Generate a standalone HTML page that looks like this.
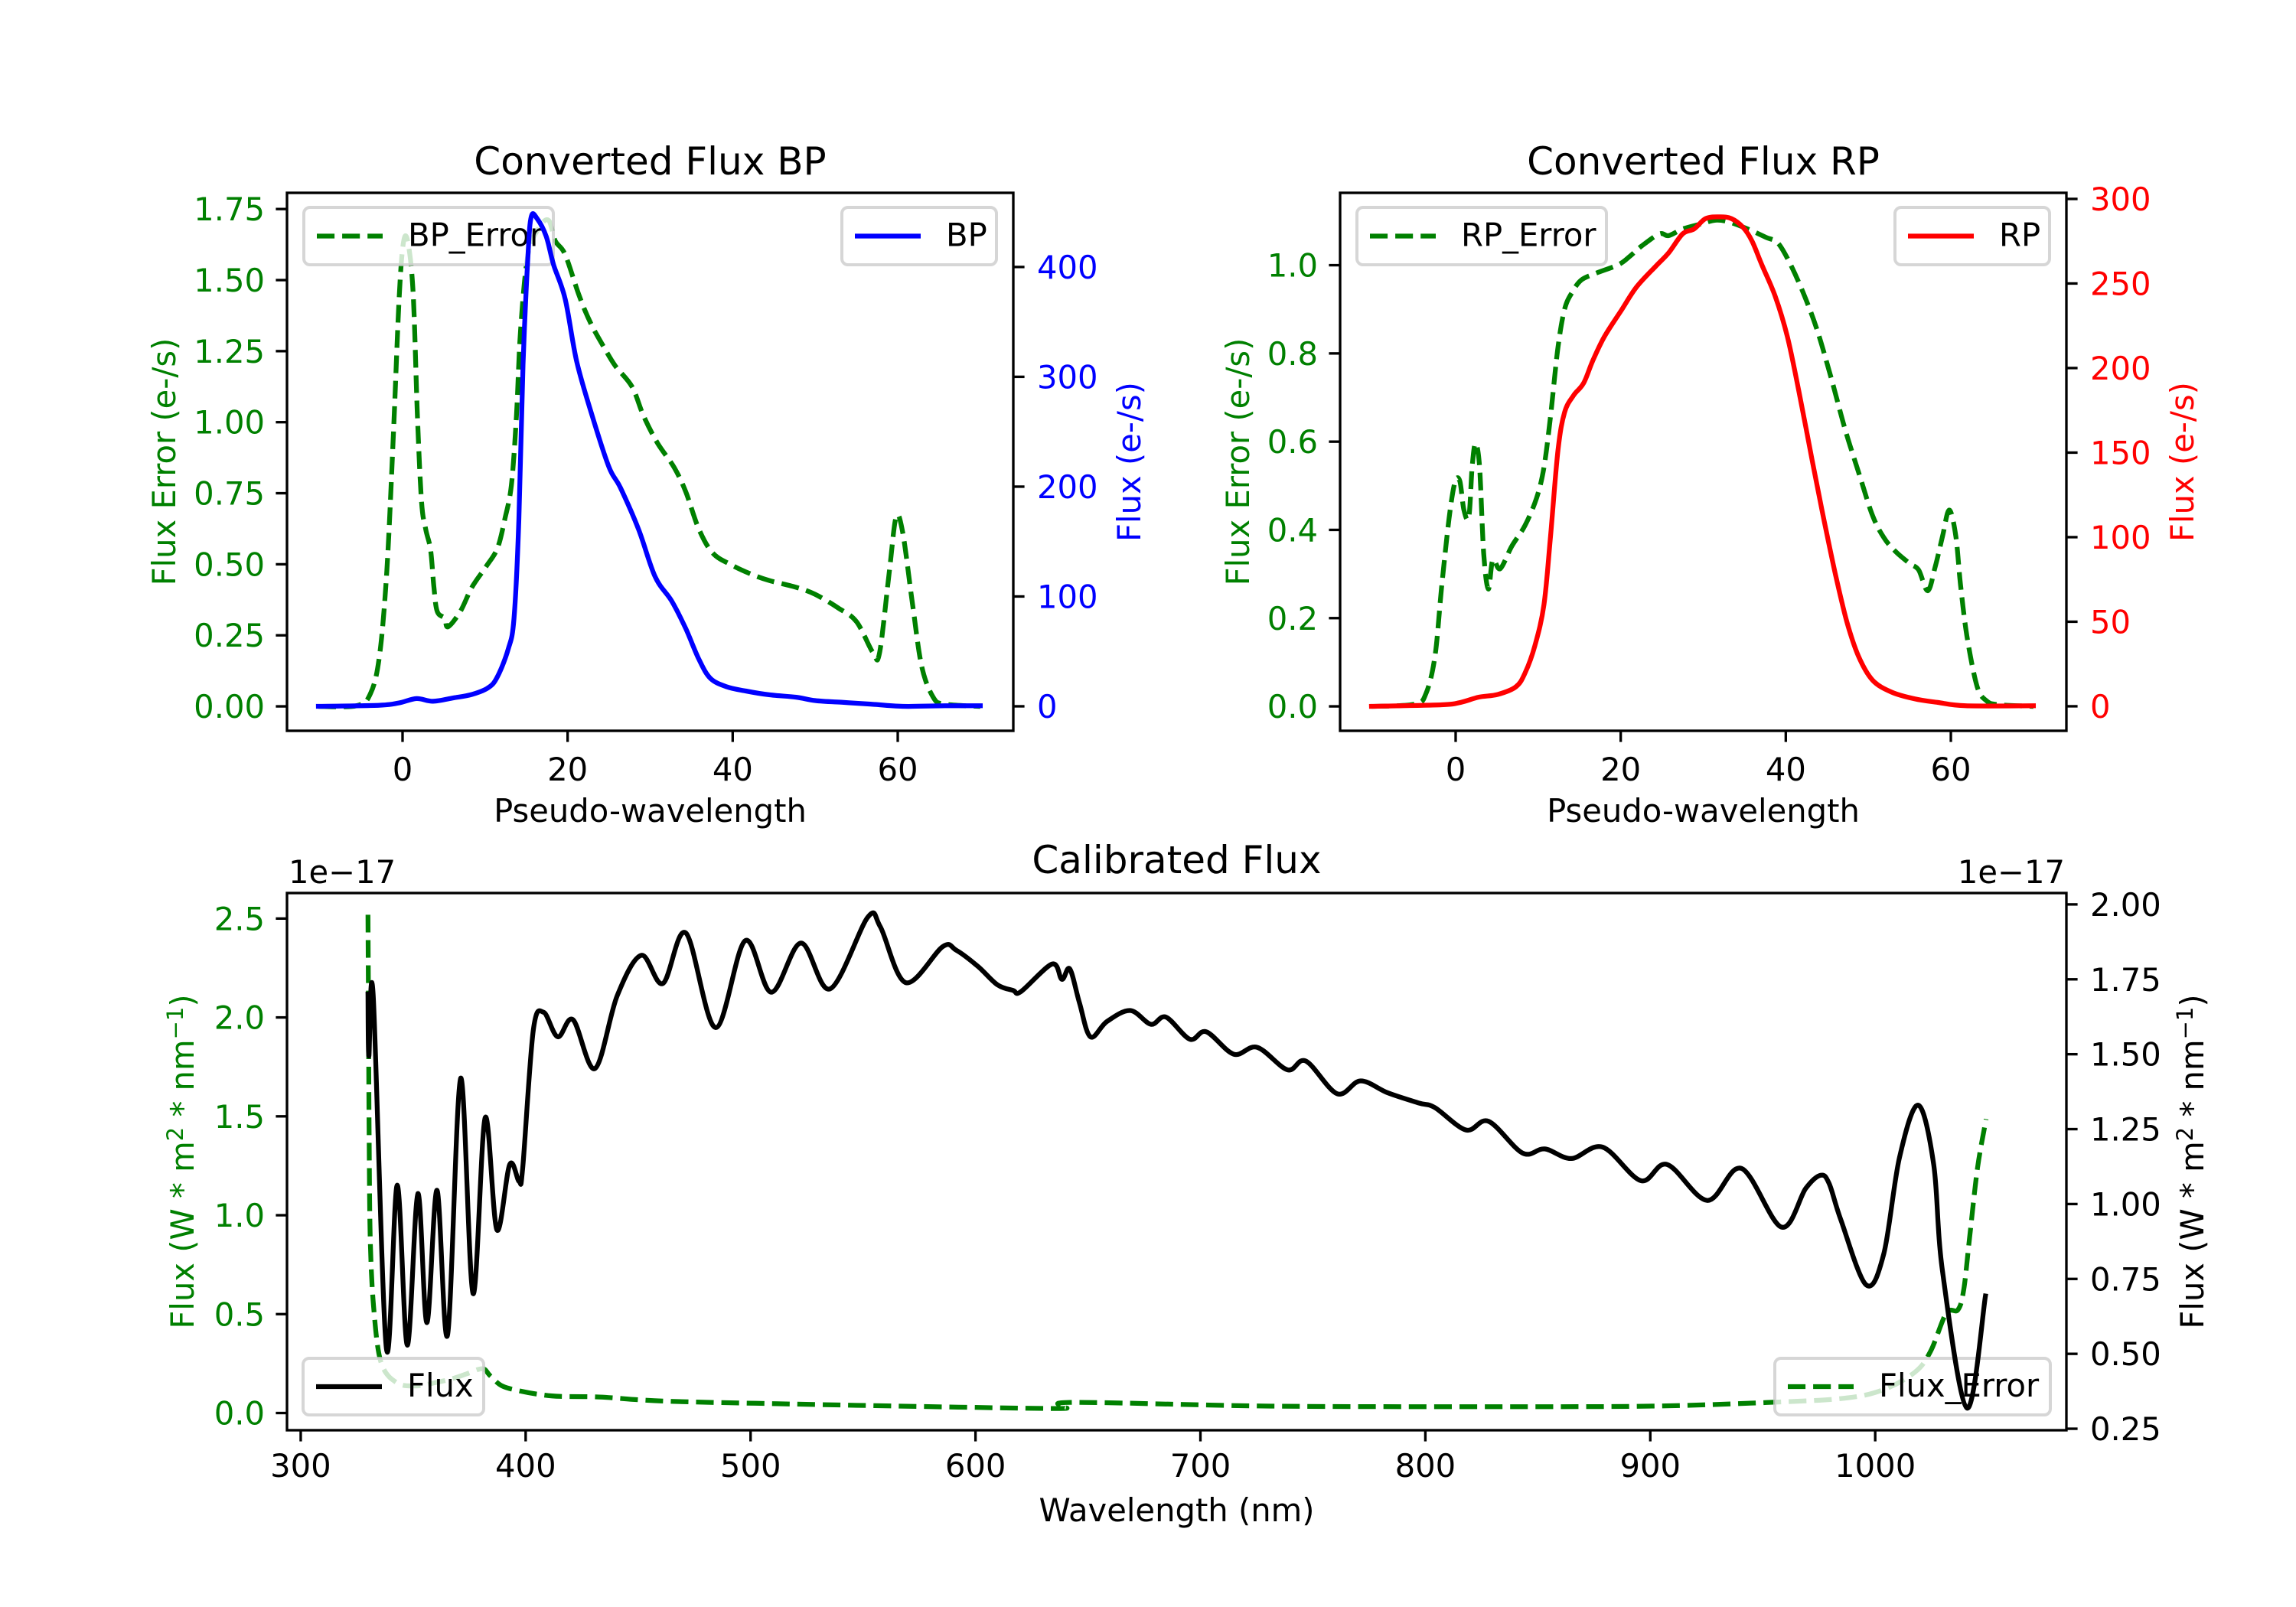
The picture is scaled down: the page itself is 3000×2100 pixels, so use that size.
<!DOCTYPE html>
<html><head><meta charset="utf-8"><style>
html,body{margin:0;padding:0;background:#fff}
svg{display:block}
text{font-family:"DejaVu Sans","Liberation Sans",sans-serif}
</style></head><body>
<svg id="fig" xmlns="http://www.w3.org/2000/svg" width="3000" height="2100" viewBox="0 0 3000 2100"></svg>
<script>
// ---------- data: BP panel ----------
const bpX = [-10.2,-2.8,-0.5,1.7,3.7,6.2,8.4,10.4,11.5,12.8,13.5,14.1,14.6,15.2,15.6,16.3,17.4,18.3,19.7,21.1,23.0,25.0,26.4,28.6,30.6,32.6,34.3,35.9,37.3,39.3,41.6,44.4,47.7,50.0,53.3,56.7,60.6,65.7,70];
const bpFlux = [0,1,3,7,4.6,7.7,10.8,17,27,52,80,171,311,411,446,444,428,402,371,314,264,218,199,161,118,96,71,43,25.5,17.7,13.9,10.5,8.3,5.2,3.6,2,0,0.5,0.5];
const bpErrX = [-10.2,-5.6,-3.9,-2.8,-1.9,-1.1,-0.4,0.14,0.7,1.3,1.8,2.3,2.8,3.4,3.8,4.2,5.1,5.5,7.0,8.4,10.1,11.5,12.4,13.2,13.8,14.3,15.2,16.6,17.7,18.5,19.7,21.4,22.8,24.4,25.8,27.8,29.2,30.9,32.9,34.3,35.9,37.6,39.9,42.1,44.4,47.7,50.0,52.8,55.0,57.0,57.8,59.0,59.8,60.6,61.8,62.9,64.3,65.7,70];
const bpErr = [0,0.002,0.044,0.177,0.479,0.962,1.445,1.638,1.626,1.445,1.022,0.72,0.624,0.551,0.419,0.334,0.31,0.28,0.334,0.419,0.491,0.557,0.66,0.781,1.022,1.324,1.59,1.686,1.71,1.638,1.59,1.445,1.348,1.264,1.197,1.125,1.022,0.926,0.841,0.756,0.624,0.539,0.497,0.467,0.443,0.419,0.394,0.346,0.298,0.189,0.189,0.479,0.666,0.612,0.358,0.141,0.032,0.008,0];
const bpXTicks = [0,20,40,60];
const bpLTicks = ["0.00","0.25","0.50","0.75","1.00","1.25","1.50","1.75"];
const bpRTicks = ["0","100","200","300","400"];
// ---------- data: RP panel ----------
const rpX = [-10.2,-1.7,0.6,2.8,5.1,7.3,8.4,9.6,10.7,11.5,12.4,13.2,14.3,15.5,16.6,18.0,20.0,21.9,24.2,25.8,27.5,28.9,30.3,32.0,33.4,34.8,35.9,37.1,38.7,40.2,41.6,43.2,44.6,46.0,47.4,48.8,50.5,52.8,55.6,58.4,61.8,70];
const rpFlux = [0,0.9,2.3,5.4,7,11.5,19.6,35.8,60.2,100.7,151.4,173.8,183.9,191,204.2,218.4,233.6,247.8,260,268.1,279.3,282.3,288.4,289.4,288.4,283.3,275.2,261,242.7,218.4,185.9,145.4,110.9,78.4,50,29.7,15.5,8.4,4.4,2.3,0.3,0.3];
const rpErrX = [-10.2,-5.0,-3.6,-2.5,-1.7,-0.8,-0.1,0.5,1.0,1.6,2.0,2.4,2.9,3.4,3.96,4.5,5.4,6.8,8.4,9.8,10.7,11.5,12.4,13.2,14.1,15.2,16.9,19.7,21.1,22.5,24.7,25.8,27.5,29.8,31.5,33.1,35.4,37.6,39.0,40.4,42.1,43.8,45.5,47.2,48.9,50.5,51.9,53.3,55.0,56.1,57.2,58.1,59.0,59.8,60.6,61.2,62.0,63.2,64.3,65.7,70];
const rpErr = [0,0.005,0.029,0.114,0.27,0.425,0.507,0.511,0.445,0.429,0.542,0.596,0.542,0.347,0.266,0.332,0.312,0.363,0.41,0.472,0.542,0.658,0.814,0.9,0.938,0.966,0.981,1.001,1.02,1.043,1.071,1.067,1.082,1.094,1.102,1.098,1.082,1.063,1.051,1.008,0.938,0.853,0.744,0.627,0.526,0.433,0.382,0.351,0.324,0.309,0.262,0.316,0.386,0.445,0.386,0.27,0.153,0.044,0.013,0.004,0];
const rpXTicks = [0,20,40,60];
const rpLTicks = ["0.0","0.2","0.4","0.6","0.8","1.0"];
const rpRTicks = ["0","50","100","150","200","250","300"];
// ---------- data: calibrated flux ----------
const calX = [329.9,330.3,332.2,338.1,342.9,347.4,352.1,356.1,360.6,365.3,371.1,376.6,382.0,387.2,392.9,397.1,398.7,403.4,408.0,414.3,421.1,430.8,440.7,451.4,461.0,471.2,484.4,497.6,509.2,522.4,535.3,552.1,557.7,569.0,585.4,591.5,601.1,609.7,616.7,620.2,634.1,638.4,641.9,646.2,651.1,658.4,668.8,678.0,684.7,695.3,702.6,714.8,725.2,738.7,746.9,760.8,771.2,783.3,797.2,804.2,818.1,828.1,843.2,853.1,864.9,878.8,895.8,907.5,925.4,940.5,958.3,969.1,975.7,979.5,984.7,996.0,1003.8,1010.8,1019.1,1026.0,1029.9,1040.8,1049.0];
const calFlux = [1.701,1.494,1.698,0.517,1.063,0.529,1.035,0.604,1.046,0.563,1.42,0.701,1.288,0.914,1.132,1.075,1.121,1.58,1.64,1.558,1.615,1.452,1.695,1.83,1.736,1.905,1.589,1.879,1.707,1.871,1.718,1.957,1.925,1.739,1.859,1.847,1.793,1.732,1.713,1.709,1.801,1.75,1.785,1.672,1.558,1.609,1.646,1.6,1.624,1.55,1.575,1.5,1.523,1.448,1.477,1.368,1.411,1.371,1.337,1.322,1.247,1.276,1.17,1.184,1.152,1.19,1.078,1.132,1.012,1.119,0.923,1.052,1.096,1.069,0.948,0.73,0.834,1.155,1.33,1.132,0.776,0.319,0.693];
const calErrX = [329.9,330.1,330.4,330.9,332.4,335.6,342.6,351.3,360.0,366.9,373.8,380.8,384.2,389.5,398.1,406.8,415.5,432.9,450.2,467.6,502.3,566.2,634.1,639.3,644.5,731.3,829.9,899.7,951.7,986.5,1003.8,1017.7,1024.6,1031.6,1036.8,1039.4,1042.0,1045.5,1049.3];
const calErr = [2.519,2.116,1.416,0.89,0.54,0.259,0.154,0.137,0.154,0.172,0.198,0.224,0.189,0.137,0.11,0.093,0.084,0.081,0.067,0.058,0.049,0.035,0.023,0.032,0.054,0.035,0.032,0.035,0.053,0.075,0.119,0.207,0.312,0.505,0.522,0.627,0.89,1.24,1.486];
const calXTicks = [300,400,500,600,700,800,900,1000];
const calLTicks = ["0.0","0.5","1.0","1.5","2.0","2.5"];
const calRTicks = ["0.25","0.50","0.75","1.00","1.25","1.50","1.75","2.00"];

const NS = 'http://www.w3.org/2000/svg';
const svg = document.getElementById('fig');
const GREEN = '#008000';
function mk(tag, attrs, parent) {
  const e = document.createElementNS(NS, tag);
  for (const k in attrs) e.setAttribute(k, attrs[k]);
  (parent || svg).appendChild(e);
  return e;
}
function lin(d0, d1, p0, p1) { return v => p0 + (v - d0) * (p1 - p0) / (d1 - d0); }

function addText(str, attrs, name) {
  const t = mk('text', attrs);
  t.textContent = str;
  
  
  return t;
}

// smooth path through screen points (Catmull-Rom -> cubic Bezier)
function smoothPath(P) {
  let d = 'M' + P[0][0].toFixed(1) + ',' + P[0][1].toFixed(1);
  for (let i = 0; i < P.length - 1; i++) {
    const p0 = P[Math.max(0, i - 1)], p1 = P[i], p2 = P[i + 1], p3 = P[Math.min(P.length - 1, i + 2)];
    const k = 1 / 6;
    const c1x = p1[0] + (p2[0] - p0[0]) * k, c1y = p1[1] + (p2[1] - p0[1]) * k;
    const c2x = p2[0] - (p3[0] - p1[0]) * k, c2y = p2[1] - (p3[1] - p1[1]) * k;
    d += ' C' + c1x.toFixed(1) + ',' + c1y.toFixed(1) + ' ' + c2x.toFixed(1) + ',' + c2y.toFixed(1) + ' ' + p2[0].toFixed(1) + ',' + p2[1].toFixed(1);
  }
  return d;
}

function drawLine(xs, ys, sx, sy, color, dashed, clipId, name) {
  const P = xs.map((x, i) => [sx(x), sy(ys[i])]);
  const a = {d: smoothPath(P), fill: 'none', stroke: color, 'stroke-width': 6.25, 'stroke-linejoin': 'round', 'clip-path': 'url(#' + clipId + ')'};
  if (dashed) { a['stroke-dasharray'] = '23.1 10'; } else { a['stroke-linecap'] = 'square'; }
  const p = mk('path', a);
  
  
  return p;
}

function legend(x0, y0, x1, y1, color, dashed, label, name) {
  const g = mk('g', {});
  
  
  mk('rect', {x: x0, y: y0, width: x1 - x0, height: y1 - y0, rx: 8, fill: '#fff', 'fill-opacity': 0.8, stroke: '#cccccc', 'stroke-opacity': 0.8, 'stroke-width': 4}, g);
  const cy = (y0 + y1) / 2;
  const hx = x0 + 17;
  const h = mk('line', {x1: hx, y1: cy, x2: hx + 86, y2: cy, stroke: color, 'stroke-width': 6.25, 'stroke-dasharray': dashed ? '23.1 10' : 'none'}, g);
  
  
  const t = mk('text', {x: hx + 119, y: cy + 13, 'font-size': 41.7, fill: '#000'}, g);
  t.textContent = label;
  
  
}

function axes(cfg) {
  const {L, R, T, B} = cfg;
  const sx = lin(cfg.xlim[0], cfg.xlim[1], L, R);
  const syL = lin(cfg.ylimL[0], cfg.ylimL[1], B, T);
  const syR = lin(cfg.ylimR[0], cfg.ylimR[1], B, T);
  const defs = mk('defs', {});
  const cp = mk('clipPath', {id: cfg.id + '-clip'}, defs);
  mk('rect', {x: L, y: T, width: R - L, height: B - T}, cp);
  drawLine(cfg.exs, cfg.eys, sx, syL, GREEN, true, cfg.id + '-clip', cfg.id + '-error-line');
  legend(cfg.legE[0], cfg.legE[1], cfg.legE[2], cfg.legE[3], GREEN, true, cfg.legEName, cfg.id + '-error-legend');
  drawLine(cfg.fxs, cfg.fys, sx, syR, cfg.fcolor, false, cfg.id + '-clip', cfg.id + '-flux-line');
  legend(cfg.legF[0], cfg.legF[1], cfg.legF[2], cfg.legF[3], cfg.fcolor, false, cfg.legFName, cfg.id + '-flux-legend');
  const fr = mk('rect', {x: L, y: T, width: R - L, height: B - T, fill: 'none', stroke: '#000', 'stroke-width': 3.33});
  
  
  cfg.xticks.forEach(v => {
    const x = sx(v);
    mk('line', {x1: x, y1: B, x2: x, y2: B + 14.6, stroke: '#000', 'stroke-width': 3.33});
    addText(String(v), {x: x, y: cfg.xtickBase, 'font-size': 41.7, 'text-anchor': 'middle', fill: '#000'}, cfg.id + '-x-tick-label');
  });
  cfg.lticks.forEach(s => {
    const y = syL(parseFloat(s));
    mk('line', {x1: L - 14.6, y1: y, x2: L, y2: y, stroke: '#000', 'stroke-width': 3.33});
    addText(s, {x: L - 29, y: y + 15, 'font-size': 41.7, 'text-anchor': 'end', fill: GREEN}, cfg.id + '-left-tick-label');
  });
  cfg.rticks.forEach(s => {
    const y = syR(parseFloat(s));
    mk('line', {x1: R, y1: y, x2: R + 14.6, y2: y, stroke: '#000', 'stroke-width': 3.33});
    addText(s, {x: R + 31, y: y + 15, 'font-size': 41.7, 'text-anchor': 'start', fill: cfg.rtickColor}, cfg.id + '-right-tick-label');
  });
  const cx = (L + R) / 2, cy = (T + B) / 2;
  addText(cfg.title, {x: cx, y: cfg.titleBase, 'font-size': 50, 'text-anchor': 'middle', fill: '#000'}, cfg.id + '-title');
  addText(cfg.xlabel, {x: cx, y: cfg.xlabelBase, 'font-size': 41.7, 'text-anchor': 'middle', fill: '#000'}, cfg.id + '-x-axis-title');
  const yl = addText('', {x: cfg.ylabelLX + 15, y: cy, 'font-size': 41.7, 'text-anchor': 'middle', fill: GREEN, transform: 'rotate(-90 ' + (cfg.ylabelLX + 15) + ' ' + cy + ')'}, cfg.id + '-left-axis-title');
  yl.innerHTML = cfg.ylabelL;
  const yr = addText('', {x: cfg.ylabelRX + 15, y: cy, 'font-size': 41.7, 'text-anchor': 'middle', fill: cfg.ylabelRColor, transform: 'rotate(-90 ' + (cfg.ylabelRX + 15) + ' ' + cy + ')'}, cfg.id + '-right-axis-title');
  yr.innerHTML = cfg.ylabelR;
}

axes({id: 'bp', L: 375, R: 1324, T: 252, B: 955, xlim: [-14, 74], ylimL: [-0.086, 1.807], ylimR: [-22.3, 467.5],
  exs: bpErrX, eys: bpErr, fxs: bpX, fys: bpFlux, fcolor: '#0000ff',
  legE: [397, 271, 723, 346], legEName: 'BP_Error', legF: [1100, 271, 1302, 346], legFName: 'BP',
  xticks: bpXTicks, lticks: bpLTicks, rticks: bpRTicks, rtickColor: '#0000ff', xtickBase: 1020,
  title: 'Converted Flux BP', titleBase: 228, xlabel: 'Pseudo-wavelength', xlabelBase: 1074,
  ylabelLX: 214, ylabelL: 'Flux Error (e-/s)', ylabelRX: 1475, ylabelR: 'Flux (e-/s)', ylabelRColor: '#0000ff'});

axes({id: 'rp', L: 1751, R: 2700, T: 252, B: 955, xlim: [-14, 74], ylimL: [-0.0554, 1.164], ylimR: [-14.5, 303.6],
  exs: rpErrX, eys: rpErr, fxs: rpX, fys: rpFlux, fcolor: '#ff0000',
  legE: [1773, 271, 2099, 346], legEName: 'RP_Error', legF: [2476, 271, 2678, 346], legFName: 'RP',
  xticks: rpXTicks, lticks: rpLTicks, rticks: rpRTicks, rtickColor: '#ff0000', xtickBase: 1020,
  title: 'Converted Flux RP', titleBase: 228, xlabel: 'Pseudo-wavelength', xlabelBase: 1074,
  ylabelLX: 1617, ylabelL: 'Flux Error (e-/s)', ylabelRX: 2851, ylabelR: 'Flux (e-/s)', ylabelRColor: '#ff0000'});

const supL = 'Flux (W * m<tspan dy="-14" font-size="29">2</tspan><tspan dy="14"> * nm</tspan><tspan dy="-14" font-size="29">−1</tspan><tspan dy="14">)</tspan>';
axes({id: 'cal', L: 375, R: 2700, T: 1167, B: 1869, xlim: [293.9, 1085], ylimL: [-0.087, 2.629], ylimR: [0.245, 2.038],
  exs: calErrX, eys: calErr, fxs: calX, fys: calFlux, fcolor: '#000000',
  legE: [2319, 1775, 2679, 1849], legEName: 'Flux_Error', legF: [396, 1775, 632, 1849], legFName: 'Flux',
  xticks: calXTicks, lticks: calLTicks, rticks: calRTicks, rtickColor: '#000', xtickBase: 1930,
  title: 'Calibrated Flux', titleBase: 1141, xlabel: 'Wavelength (nm)', xlabelBase: 1988,
  ylabelLX: 238, ylabelL: supL, ylabelRX: 2864, ylabelR: supL, ylabelRColor: '#000'});

addText('1e−17', {x: 377, y: 1154, 'font-size': 41.7, 'text-anchor': 'start', fill: '#000'}, 'left-offset-text');
addText('1e−17', {x: 2698, y: 1154, 'font-size': 41.7, 'text-anchor': 'end', fill: '#000'}, 'right-offset-text');
</script>
</body></html>
